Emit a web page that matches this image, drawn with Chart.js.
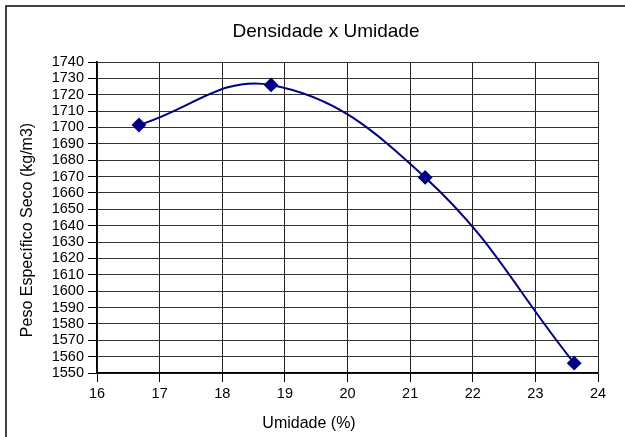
<!DOCTYPE html>
<html>
<head>
<meta charset="utf-8">
<script src="https://cdn.jsdelivr.net/npm/chart.js@4.4.1/dist/chart.umd.min.js"></script>
<style>
  html, body { margin: 0; padding: 0; background: #fff; }
  #wrap { width: 625px; height: 437px; position: relative; }
</style>
</head>
<body>
<div id="wrap"><canvas id="myChart" width="625" height="437"></canvas></div>
<script>
// data
const umidade = [16.67, 18.78, 21.24, 23.62];
const peso = [1701.5, 1726, 1669.5, 1556];

const xMin = 16, xMax = 24, xStep = 1;
const yMin = 1550, yMax = 1740, yStep = 10;

const titleText = "Densidade x Umidade";
const xTitle = "Umidade (%)";
const yTitle = "Peso Específico Seco (kg/m3)";

const navy = "#000080";
const font = "'Liberation Sans', Arial, sans-serif";

const points = umidade.map((u, i) => ({ x: u, y: peso[i] }));

// frame + titles, drawn by hand to sit where Excel put them
const excelFrame = {
  id: "excelFrame",
  beforeDraw(chart) {
    const c = chart.ctx;
    c.save();
    c.fillStyle = "#fff";
    c.fillRect(0, 0, chart.width, chart.height);
    c.strokeStyle = "#000";
    c.lineWidth = 1.5;
    c.beginPath();
    c.moveTo(6, chart.height);
    c.lineTo(6, 6);
    c.lineTo(chart.width, 6);
    c.stroke();
    c.restore();
  },
  afterDraw(chart) {
    const c = chart.ctx;
    c.save();
    c.fillStyle = "#000";
    c.textAlign = "center";
    c.textBaseline = "alphabetic";
    c.font = "19px " + font;
    c.fillText(titleText, 326, 37);
    c.font = "16px " + font;
    c.fillText(xTitle, 309, 428);
    c.translate(32, 230);
    c.rotate(-Math.PI / 2);
    c.fillText(yTitle, 0, 0);
    c.restore();
  }
};

const ctx = document.getElementById("myChart").getContext("2d");
const myChart = new Chart(ctx, {
  type: "scatter",
  data: {
    datasets: [{
      label: "Peso",
      data: points,
      showLine: true,
      tension: 0.4,
      borderColor: navy,
      borderWidth: 2,
      backgroundColor: navy,
      pointStyle: "rectRot",
      pointRadius: 6,
      pointHoverRadius: 6,
      pointBorderColor: navy,
      pointBackgroundColor: navy
    }]
  },
  options: {
    responsive: false,
    animation: false,
    events: [],
    layout: { padding: { top: 62, right: 27, left: 0, bottom: 0 } },
    plugins: {
      legend: { display: false },
      title: { display: false },
      tooltip: { enabled: false }
    },
    scales: {
      x: {
        type: "linear",
        min: xMin,
        max: xMax,
        afterFit: s => { s.height = 64; },
        ticks: {
          stepSize: xStep,
          autoSkip: false,
          maxRotation: 0,
          padding: 3,
          color: "#000",
          font: { family: font, size: 14.5 },
          callback: v => String(v)
        },
        grid: {
          color: "#222",
          borderDash: [1, 1],
          tickLength: 9,
          tickColor: "#000",
          tickBorderDash: []
        },
        border: { display: true, color: "#000", width: 1.5 }
      },
      y: {
        type: "linear",
        min: yMin,
        max: yMax,
        afterFit: s => { s.width = 97; },
        ticks: {
          stepSize: yStep,
          autoSkip: false,
          padding: 4,
          color: "#000",
          font: { family: font, size: 14.5 },
          callback: v => String(v)
        },
        grid: {
          color: "#333",
          borderDash: [1, 1],
          tickLength: 9,
          tickColor: "#000",
          tickBorderDash: []
        },
        border: { display: true, color: "#000", width: 1.5 }
      }
    }
  },
  plugins: [excelFrame]
});
</script>
</body>
</html>
